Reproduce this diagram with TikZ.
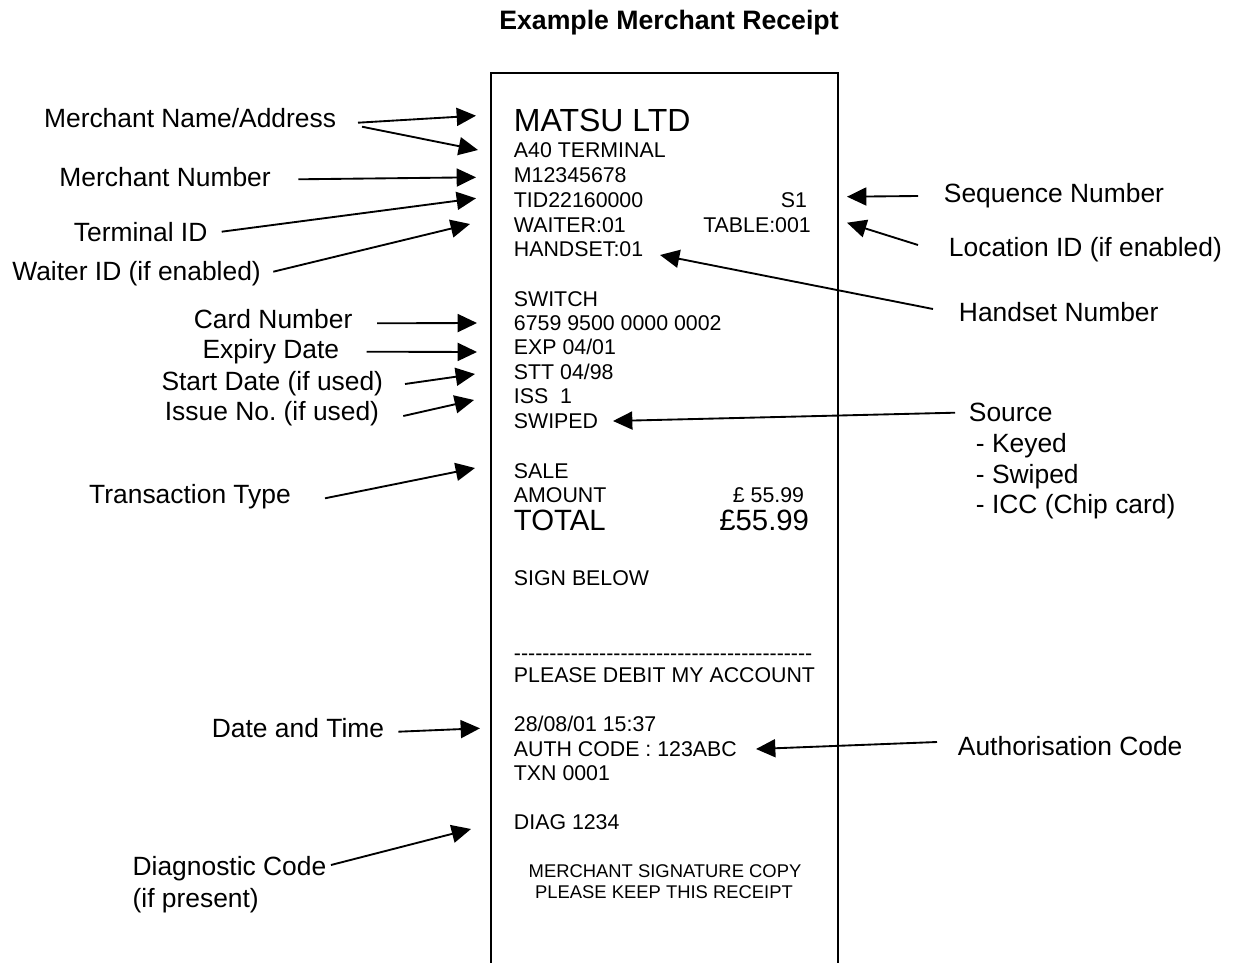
\documentclass[tikz,border=0pt]{standalone}
\usepackage{fontspec}
\setmainfont{Liberation Sans}[Ligatures=TeXOff]
\usetikzlibrary{arrows.meta}

\begin{document}
\begin{tikzpicture}[x=0.75pt, y=-0.75pt, line width=1.4pt, >={Triangle[length=14.5pt,width=13.5pt]}]

\useasboundingbox (0,0) rectangle (1238,963);

\tikzstyle{every node}=[inner sep=0pt]
\tikzstyle{notetxt}=[font=\fontsize{19.8}{24}\selectfont]
\tikzstyle{slip}=[font=\fontsize{16}{19}\selectfont, anchor=base west]
\tikzstyle{bigslip}=[slip, font=\fontsize{22}{26}\selectfont]
\tikzstyle{smallslip}=[font=\fontsize{13.8}{16}\selectfont, anchor=base]

\node[font=\bfseries\fontsize{20}{24}\selectfont, anchor=base] (title) at (669,30) {Example Merchant Receipt};

% the paper slip
\draw (491,963) -- (491,73) -- (838,73) -- (838,963);

\node[slip, font=\fontsize{24}{28}\selectfont] (shop) at (513,131.7) {MATSU LTD};
\node[slip] (term) at (513,158) {A40 TERMINAL};
\node[slip] (merno) at (513,182.5) {M12345678};
\node[slip] (tid) at (513,207.5) {TID22160000};
\node[slip, anchor=base east] (seqno) at (808,207.5) {S1};
\node[slip] (waiter) at (513,232) {WAITER:01};
\node[slip, anchor=base east] (table) at (811.7,232) {TABLE:001};
\node[slip] (hset) at (513,256.5) {HANDSET:01};
\node[slip] (scheme) at (513,306) {SWITCH};
\node[slip] (pan) at (513,330) {6759 9500 0000 0002};
\node[slip] (exp) at (513,354.5) {EXP 04/01};
\node[slip] (stt) at (513,379) {STT 04/98};
\node[slip] (iss) at (513,403.5) {ISS\ \ 1};
\node[slip] (swiped) at (513,428) {SWIPED};
\node[slip] (sale) at (513,478) {SALE};
\node[slip] (amt) at (513,502) {AMOUNT};
\node[slip, anchor=base east] (amtval) at (805,502) {£ 55.99};
\node[bigslip] (total) at (513,530) {TOTAL};
\node[bigslip, anchor=base east] (totval) at (810,530) {£55.99};
\node[slip] (sign) at (513,585) {SIGN BELOW};
\node[slip] (sigline) at (513,660) {------------------------------------------};
\node[slip] (debit) at (513,682.7) {PLEASE DEBIT MY ACCOUNT};
\node[slip] (stamp) at (513,731.7) {28/08/01 15:37};
\node[slip] (auth) at (513,756.7) {AUTH CODE : 123ABC};
\node[slip] (txn) at (513,780.7) {TXN 0001};
\node[slip] (diag) at (513,829.3) {DIAG 1234};
\node[smallslip] (copy) at (665,877.3) {MERCHANT SIGNATURE COPY};
\node[smallslip] (keep) at (664,898.3) {PLEASE KEEP THIS RECEIPT};

% descriptions on the left
\node[notetxt, anchor=base east] (lname) at (337,127.3) {Merchant Name/Address};
\node[notetxt, anchor=base east] (lnum) at (271.7,186.7) {Merchant Number};
\node[notetxt, anchor=base east] (ltid) at (208.3,241.7) {Terminal ID};
\node[notetxt, anchor=base east] (lwait) at (261.7,280) {Waiter ID (if enabled)};
\node[notetxt, anchor=base east] (lcard) at (353.3,328) {Card Number};
\node[notetxt, anchor=base east] (lexp) at (340,358) {Expiry Date};
\node[notetxt, anchor=base east] (lstart) at (384,390) {Start Date (if used)};
\node[notetxt, anchor=base east] (liss) at (380,420) {Issue No.\ (if used)};
\node[notetxt, anchor=base east] (ltype) at (291.7,503) {Transaction Type};
\node[notetxt, anchor=base east] (ldate) at (385,737) {Date and Time};
\node[notetxt, anchor=base west] (ldiag) at (131.7,875) {Diagnostic Code};
\node[notetxt, anchor=base west] (ldiag2) at (131.7,907) {(if present)};

% descriptions on the right
\node[notetxt, anchor=base west] (rseq) at (943,203) {Sequence Number};
\node[notetxt, anchor=base west] (rloc) at (948,256) {Location ID (if enabled)};
\node[notetxt, anchor=base west] (rhand) at (958,321) {Handset Number};
\node[notetxt, anchor=base west] (rsrc) at (968,421.7) {Source};
\node[notetxt, anchor=base west] (rsrc1) at (975,452.5) {- Keyed};
\node[notetxt, anchor=base west] (rsrc2) at (975,483) {- Swiped};
\node[notetxt, anchor=base west] (rsrc3) at (975,513.5) {- ICC (Chip card)};
\node[notetxt, anchor=base west] (rauth) at (957,755) {Authorisation Code};

% arrow points
\coordinate (pname1) at (476,115.7);
\coordinate (pname2) at (478,150);
\coordinate (pnum) at (476,177.3);
\coordinate (ptid) at (476,198.3);
\coordinate (pwait) at (470,224);
\coordinate (pcard) at (477,323);
\coordinate (pexp) at (477,352);
\coordinate (pstart) at (475,374);
\coordinate (piss) at (474,400);
\coordinate (ptype) at (475,468);
\coordinate (pdate) at (480,728.3);
\coordinate (pdiag) at (471,829);
\coordinate (pseq) at (847,196.7);
\coordinate (ploc) at (847,222.7);
\coordinate (phand) at (660,255);
\coordinate (psrc) at (613,421);
\coordinate (pauth) at (756,749);

\draw[->] ([shift={(21,-4.6)}]lname.base east) -- (pname1);
\draw[->] ([shift={(25,-0.6)}]lname.base east) -- (pname2);
\draw[->] ([shift={(26.6,-7.4)}]lnum.base east) -- (pnum);
\draw[->] ([shift={(13.4,-10)}]ltid.base east) -- (ptid);
\draw[->] ([shift={(11.6,-8.3)}]lwait.base east) -- (pwait);
\draw[->] ([shift={(23.7,-4.7)}]lcard.base east) -- (pcard);
\draw[->] ([shift={(26.7,-6.3)}]lexp.base east) -- (pexp);
\draw[->] ([shift={(21,-6)}]lstart.base east) -- (pstart);
\draw[->] ([shift={(23.3,-4)}]liss.base east) -- (piss);
\draw[->] ([shift={(33.3,-4.7)}]ltype.base east) -- (ptype);
\draw[->] ([shift={(13.3,-5.3)}]ldate.base east) -- (pdate);
\draw[->] ([shift={(3.7,-10)}]ldiag.base east) -- (pdiag);

\draw[->] ([shift={(-25,-7)}]rseq.base west) -- (pseq);
\draw[->] ([shift={(-30,-11)}]rloc.base west) -- (ploc);
\draw[->] ([shift={(-25,-12)}]rhand.base west) -- (phand);
\draw[->] ([shift={(-13,-9)}]rsrc.base west) -- (psrc);
\draw[->] ([shift={(-20,-13)}]rauth.base west) -- (pauth);

\end{tikzpicture}
\end{document}
